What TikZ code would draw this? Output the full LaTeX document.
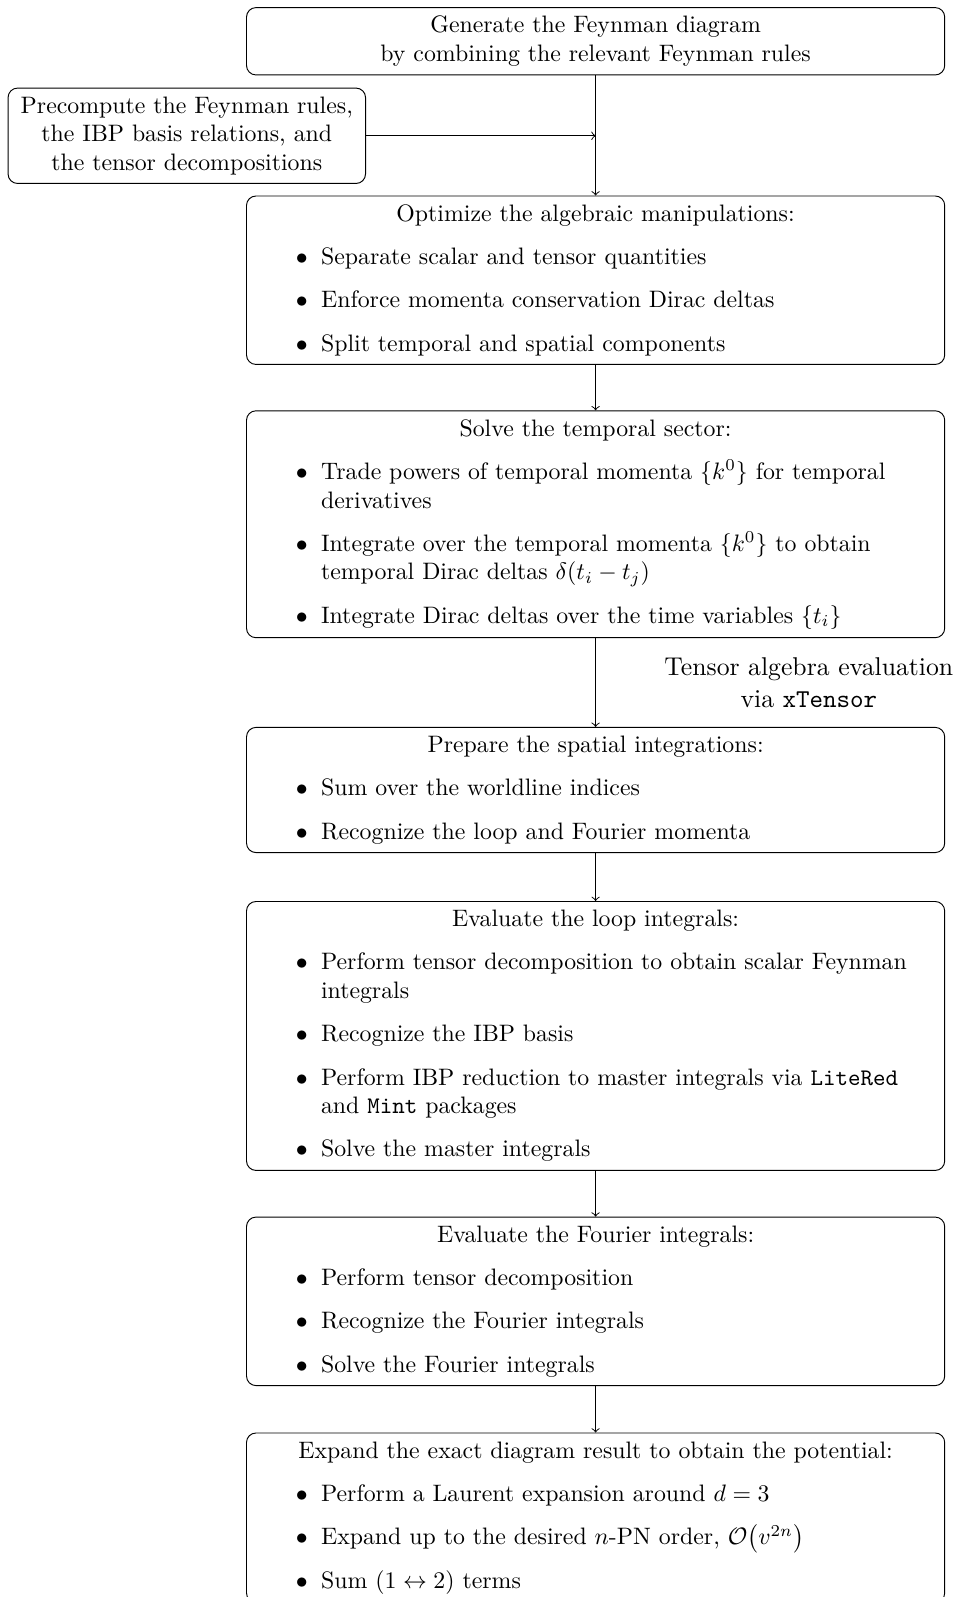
\documentclass[tikz,border=0pt]{standalone}
\newcommand\boxtitle[1]{{\centering #1\par}}
\newcommand\bitem[1]{\par\vspace{6.2pt}{\leftskip=28pt\rightskip=5pt plus 1fil\noindent\llap{$\bullet$\hspace{5.6pt}}#1\par}}
\tikzset{
  stepbox/.style={draw, rounded corners=4pt, text width=286.7pt, inner xsep=3.33pt, inner ysep=3.6pt, align=left, anchor=north},
  prebox/.style={draw, rounded corners=4pt, align=center, anchor=north, inner xsep=3.33pt, inner ysep=3.6pt, minimum width=150.2pt},
  arr/.style={->},
  lbl/.style={align=center, font=\fontsize{10.8}{13.7}\selectfont}
}
\begin{document}
\begin{tikzpicture}[x=0.420168pt,y=-0.420168pt]
\useasboundingbox (0,0) rectangle (957,1597);
\node[stepbox, align=center] (b1) at (595.6,7.1) {Generate the Feynman diagram\\by combining the relevant Feynman rules};
\node[prebox] (pre) at (186.8,87.6) {Precompute the Feynman rules,\\the IBP basis relations, and\\the tensor decompositions};
\node[stepbox] (b2) at (595.6,195.5) {\boxtitle{Optimize the algebraic manipulations:}
  \bitem{Separate scalar and tensor quantities}
  \bitem{Enforce momenta conservation Dirac deltas}
  \bitem{Split temporal and spatial components}};
\node[stepbox] (b3) at (595.6,410.3) {\boxtitle{Solve the temporal sector:}
  \bitem{Trade powers of temporal momenta $\{k^0\}$ for temporal derivatives}
  \bitem{Integrate over the temporal momenta $\{k^0\}$ to obtain temporal Dirac deltas $\delta(t_i-t_j)$}
  \bitem{Integrate Dirac deltas over the time variables $\{t_i\}$}};
\node[stepbox] (b4) at (595.6,726.9) {\boxtitle{Prepare the spatial integrations:}
  \bitem{Sum over the worldline indices}
  \bitem{Recognize the loop and Fourier momenta}};
\node[stepbox] (b5) at (595.6,901.0) {\boxtitle{Evaluate the loop integrals:}
  \bitem{Perform tensor decomposition to obtain scalar Feynman integrals}
  \bitem{Recognize the IBP basis}
  \bitem{Perform IBP reduction to master integrals via \texttt{LiteRed} and \texttt{Mint} packages}
  \bitem{Solve the master integrals}};
\node[stepbox] (b6) at (595.6,1216.6) {\boxtitle{Evaluate the Fourier integrals:}
  \bitem{Perform tensor decomposition}
  \bitem{Recognize the Fourier integrals}
  \bitem{Solve the Fourier integrals}};
\node[stepbox] (b7) at (595.6,1432.5) {\boxtitle{Expand the exact diagram result to obtain the potential:}
  \bitem{Perform a Laurent expansion around $d=3$}
  \bitem{Expand up to the desired $n$-PN order, $\mathcal{O}\big(v^{2n}\big)$}
  \bitem{Sum $(1\leftrightarrow 2)$ terms}};
\draw[arr] (b1.south) -- (b2.north);
\draw[arr] (pre.east) -- (pre.east -| b1.south);
\draw[arr] (b2.south) -- (b3.north);
\draw[arr] (b3.south) -- (b4.north) node[lbl, midway, xshift=89.6pt] (lab) {Tensor algebra evaluation\\via \texttt{xTensor}};
\draw[arr] (b4.south) -- (b5.north);
\draw[arr] (b5.south) -- (b6.north);
\draw[arr] (b6.south) -- (b7.north);
\end{tikzpicture}
\end{document}
